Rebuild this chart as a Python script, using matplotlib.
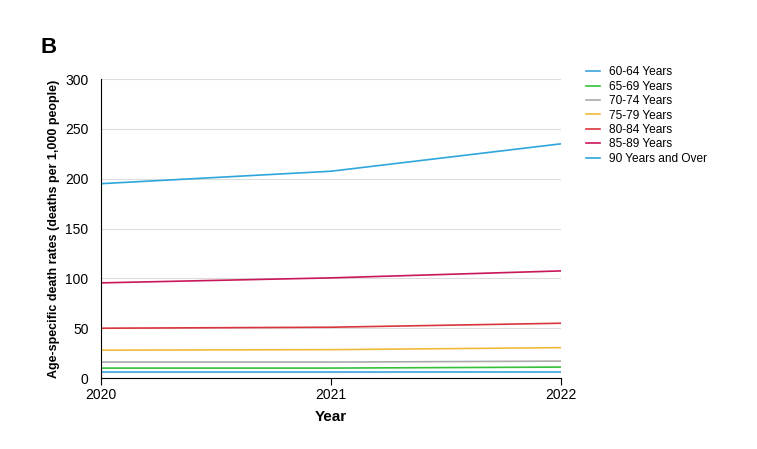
import matplotlib.pyplot as plt

plt.rcParams['font.family'] = ['Liberation Sans', 'DejaVu Sans']

years = [2020, 2021, 2022]
labels = ["60-64 Years", "65-69 Years", "70-74 Years", "75-79 Years",
          "80-84 Years", "85-89 Years", "90 Years and Over"]
rates = [
    [6.5, 6.5, 6.5],
    [10, 10, 11],
    [16, 16, 17],
    [28, 28.5, 30.5],
    [50, 51, 55],
    [95.5, 100.5, 107.5],
    [195, 207.5, 235],
]
colors = ["#3aa3dc", "#35c13a", "#aaaaaa", "#f0bb3a", "#d8353c", "#c8175a", "#2ea6dc"]

fig = plt.figure(figsize=(7.57, 4.49), dpi=100)
ax = fig.add_axes([0.1334, 0.158, 0.6077, 0.666])

for lab, vals, c in zip(labels, rates, colors):
    ax.plot(years, vals, color=c, linewidth=1.2, label=lab)

ax.set_xlim(2020, 2022)
ax.set_ylim(0, 300)
ax.set_xticks(years)
ax.set_xticklabels([str(y) for y in years])
ax.set_yticks(range(0, 301, 50))
ax.yaxis.grid(True, color="#dddddd", linewidth=0.8)
ax.set_axisbelow(True)
ax.tick_params(axis='y', length=0, labelsize=10, pad=9)
ax.tick_params(axis='x', length=5, labelsize=10, pad=2)
for s in ['top', 'right']:
    ax.spines[s].set_visible(False)
ax.spines['left'].set_color('black')
ax.spines['bottom'].set_color('black')

ax.set_xlabel("Year", fontsize=11, fontweight='bold', labelpad=6)
ax.set_ylabel("Age-specific death rates (deaths per 1,000 people)", fontsize=9,
              fontweight='bold', labelpad=4)

fig.text(0.053, 0.882, "B", fontsize=16, fontweight='bold')

leg = ax.legend(loc='upper left', bbox_to_anchor=(1.03, 1.078), frameon=False,
                fontsize=8.6, handlelength=1.2, handletextpad=0.8,
                labelspacing=0.2)

fig.savefig("out.png", dpi=100)
